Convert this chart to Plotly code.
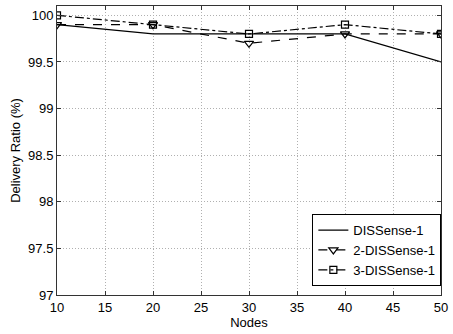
import plotly.graph_objects as go

nodes = [10, 20, 30, 40, 50]
dissense1 = [99.9, 99.8, 99.8, 99.8, 99.5]
dissense2 = [99.9, 99.9, 99.7, 99.8, 99.8]
dissense3 = [100.0, 99.9, 99.8, 99.9, 99.8]
names = ["DISSense-1", "2-DISSense-1", "3-DISSense-1"]
xticks = [10, 15, 20, 25, 30, 35, 40, 45, 50]
yticks = [97, 97.5, 98, 98.5, 99, 99.5, 100]

fig = go.Figure()
fig.add_trace(go.Scatter(x=nodes, y=dissense1, name=names[0], mode="lines",
                         line=dict(color="black", width=1.2)))
fig.add_trace(go.Scatter(x=nodes, y=dissense2, name=names[1], mode="lines+markers",
                         line=dict(color="black", width=1.2, dash="dash"),
                         marker=dict(symbol="triangle-down-open", size=8, color="black",
                                     line=dict(width=1.2))))
fig.add_trace(go.Scatter(x=nodes, y=dissense3, name=names[2], mode="lines+markers",
                         line=dict(color="black", width=1.2, dash="dashdot"),
                         marker=dict(symbol="square-open", size=7, color="black",
                                     line=dict(width=1.2))))

axis_common = dict(showline=True, linecolor="#333333", linewidth=1, mirror="ticks",
                   ticks="inside", ticklen=4, tickcolor="#333333",
                   showgrid=True, gridcolor="#b0b0b0", griddash="1px,2px", gridwidth=1,
                   zeroline=False, tickfont=dict(size=13, color="black"),
                   ticklabeloverflow="allow")

fig.update_layout(
    width=453, height=334,
    margin=dict(l=57, r=5, t=5, b=39),
    paper_bgcolor="white", plot_bgcolor="white",
    font=dict(family="Liberation Sans, Arial, sans-serif", size=13, color="black"),
    xaxis=dict(range=[10, 50], tickvals=xticks, ticktext=[str(v) for v in xticks],
               title=dict(text="Nodes", standoff=2, font=dict(size=13)), **axis_common),
    yaxis=dict(range=[97, 100.1], tickvals=yticks,
               ticktext=["97", "97.5", "98", "98.5", "99", "99.5", "100"],
               title=dict(text="Delivery Ratio (%)", standoff=4, font=dict(size=13)),
               **axis_common),
    legend=dict(x=0.665, y=0.28, xanchor="left", yanchor="top",
                bgcolor="white", bordercolor="black", borderwidth=1,
                font=dict(size=13), tracegroupgap=0, itemwidth=30),
    showlegend=True,
)

fig.write_html("out.html")
